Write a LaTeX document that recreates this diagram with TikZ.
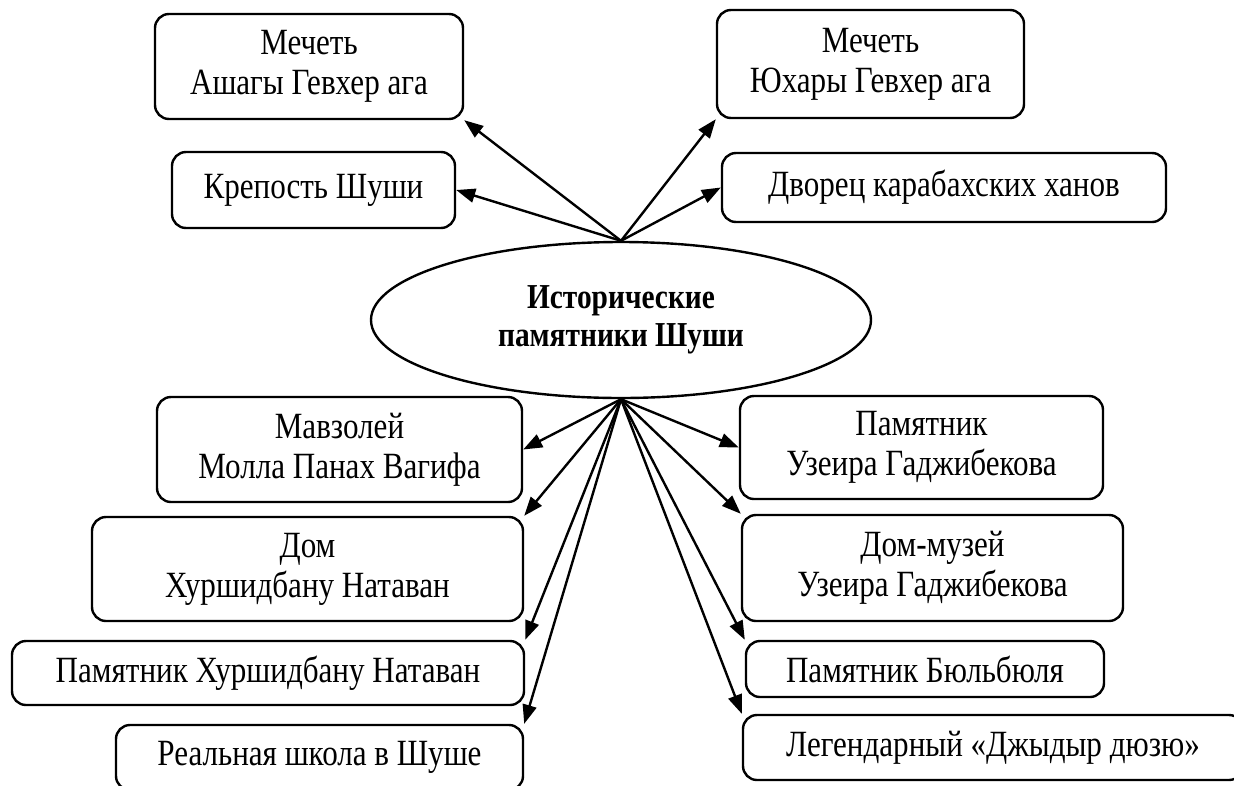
\documentclass[tikz,border=0pt]{standalone}
\usepackage{fontspec}
\setmainfont[FakeStretch=0.84]{Liberation Serif}
\usetikzlibrary{shapes.geometric,arrows.meta}
\begin{document}
\begin{tikzpicture}[x=1pt,y=-1pt,
  box/.style={draw=black, line width=2.4pt, rounded corners=14pt, align=center,
    inner sep=0pt, font=\fontsize{37pt}{40pt}\selectfont},
  hub/.style={draw=black, line width=2.4pt, ellipse, inner sep=0pt,
    minimum width=500pt, minimum height=156pt, align=center,
    font=\fontsize{35pt}{38pt}\selectfont\bfseries},
  link/.style={line width=2.4pt, -{Triangle[length=19pt,width=14pt]}}]
\useasboundingbox (0,0) rectangle (1234,785);
\clip (0,0) rectangle (1234,785);
\node[hub] (c) at (621,320) {Исторические\\памятники Шуши};
\node[box, minimum width=308pt, minimum height=105pt] (b1) at (309,66.5) {Мечеть\\Ашагы Гевхер ага};
\node[box, minimum width=283pt, minimum height=76pt] (b2) at (313.5,190) {Крепость Шуши};
\node[box, minimum width=307pt, minimum height=108pt] (b3) at (870.5,64) {Мечеть\\Юхары Гевхер ага};
\node[box, minimum width=444pt, minimum height=69pt] (b4) at (944,187.5) {Дворец карабахских ханов};
\node[box, minimum width=365pt, minimum height=105pt] (b5) at (339.5,449.5) {Мавзолей\\Молла Панах Вагифа};
\node[box, minimum width=431pt, minimum height=104pt] (b6) at (307.5,569) {Дом\\Хуршидбану Натаван};
\node[box, minimum width=512pt, minimum height=64pt] (b7) at (268,673) {Памятник Хуршидбану Натаван};
\node[box, minimum width=407pt, minimum height=65pt] (b8) at (319.5,757.5) {Реальная школа в Шуше};
\node[box, minimum width=363pt, minimum height=103pt] (b9) at (921.5,447.5) {Памятник\\Узеира Гаджибекова};
\node[box, minimum width=381pt, minimum height=106pt] (b10) at (932.5,568) {Дом-музей\\Узеира Гаджибекова};
\node[box, minimum width=358pt, minimum height=56pt] (b11) at (925,669) {Памятник Бюльбюля};
\node[box, minimum width=500pt, minimum height=65pt] (b12) at (993,747.5) {Легендарный «Джыдыр дюзю»};
\draw[link] (c.north) -- (b1.south east);
\draw[link] (c.north) -- (b2.east);
\draw[link] (c.north) -- (b3.south west);
\draw[link] (c.north) -- (b4.west);
\draw[link] (c.south) -- (b5.east);
\draw[link] (c.south) -- (b6.north east);
\draw[link] (c.south) -- (b7.north east);
\draw[link] (c.south) -- (b8.north east);
\draw[link] (c.south) -- (b9.west);
\draw[link] (c.south) -- (b10.north west);
\draw[link] (c.south) -- (b11.north west);
\draw[link] (c.south) -- (b12.north west);
\end{tikzpicture}
\end{document}
